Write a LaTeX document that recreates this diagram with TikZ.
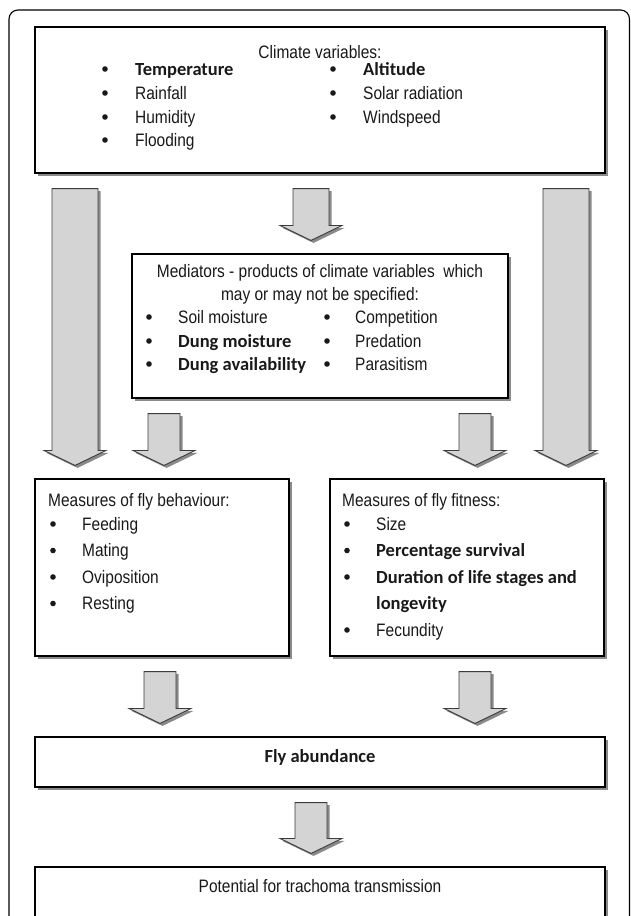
\documentclass[tikz,border=0pt]{standalone}
\usepackage{fontspec}
\setmainfont{Liberation Sans}[FakeStretch=0.86]
\newfontfamily\carl{Carlito}
\usetikzlibrary{calc,shadows}
\definecolor{arrowfill}{HTML}{D4D4D4}
\definecolor{arrowline}{HTML}{3C3C3C}
\definecolor{shadec}{HTML}{8A8A8A}
\tikzset{
  boxnode/.style={draw=black, line width=1.1pt, fill=white, inner sep=0pt,
    drop shadow={shadow xshift=2.5pt, shadow yshift=-2.5pt, fill=shadec, opacity=1}},
  txt/.style={font=\fontsize{18}{20}\selectfont, inner sep=0pt, text=black!90},
  btxt/.style={font=\carl\bfseries\fontsize{18.5}{20}\selectfont, inner sep=0pt, text=black!90},
  bul/.style={circle, fill=black!90, inner sep=0pt, minimum size=5.6pt, yshift=6pt},
  blockarrow/.style={draw=arrowline, line width=0.9pt, fill=arrowfill, line join=miter,
    drop shadow={shadow xshift=2.5pt, shadow yshift=-2.5pt, fill=shadec, opacity=1}},
  frame/.style={draw=black, line width=1.1pt, rounded corners=9pt}
}
\newcommand\blockarr[5]{%
  \path ($(#1)+(0,15)$) coordinate (#5s) ($(#2)+(0,-13)$) coordinate (#5e);
  \draw[blockarrow] let \p1=(#5s), \p2=(#5e) in
   (\x1-#3pt,\y1) -- (\x1+#3pt,\y1) -- (\x1+#3pt,\y2+15pt) -- (\x1+#4pt,\y2+15pt)
   -- (\x1,\y2) -- (\x1-#4pt,\y2+15pt) -- (\x1-#3pt,\y2+15pt) -- cycle;
}
\begin{document}
\begin{tikzpicture}[x=1pt,y=-1pt]
\useasboundingbox (0,0) rectangle (630,916);
\clip (0,0) rectangle (630,916);
\fill[white] (0,0) rectangle (630,916);
\draw[frame] (9,10) rectangle (629.5,960);

% boxes
\node[boxnode, minimum width=570pt, minimum height=146pt] (climate) at (320,100) {};
\node[boxnode, minimum width=376pt, minimum height=144pt] (med) at (320,326) {};
\node[boxnode, minimum width=254pt, minimum height=177pt] (beh) at (162,567.5) {};
\node[boxnode, minimum width=274pt, minimum height=177pt] (fit) at (467,567.5) {};
\node[boxnode, minimum width=570pt, minimum height=50pt] (fly) at (320,762) {};
\node[boxnode, minimum width=570pt, minimum height=70pt] (pot) at (320,902) {};

% arrow columns
\coordinate (cL) at (75,0);
\coordinate (cR) at (566,0);
\coordinate (cM) at (311,0);
\coordinate (cSL) at (164,0);
\coordinate (cSR) at (475,0);
\coordinate (cBL) at (160,0);
\coordinate (cBR) at (475,0);

% block arrows
\blockarr{climate.south -| cL}{beh.north -| cL}{23}{31}{aL}
\blockarr{climate.south -| cR}{fit.north -| cR}{23}{31}{aR}
\blockarr{climate.south -| cM}{med.north -| cM}{18}{31}{aM}
\blockarr{med.south -| cSL}{beh.north -| cSL}{16}{31}{aSL}
\blockarr{med.south -| cSR}{fit.north -| cSR}{16}{31}{aSR}
\blockarr{beh.south -| cBL}{fly.north -| cBL}{16}{31}{aBL}
\blockarr{fit.south -| cBR}{fly.north -| cBR}{16}{31}{aBR}
\blockarr{fly.south -| cM}{pot.north -| cM}{16}{31}{aP}

% climate text
\node[txt, anchor=base] (ctitle) at (320,58) {Climate variables:};
\node[bul] (cb1) at (105,75) {};
\node[bul] (cb2) at (105,99) {};
\node[bul] (cb3) at (105,123) {};
\node[bul] (cb4) at (105,146) {};
\node[btxt, anchor=base west] (ct1) at (135,75) {Temperature};
\node[txt, anchor=base west] (ct2) at (135,99) {Rainfall};
\node[txt, anchor=base west] (ct3) at (135,123) {Humidity};
\node[txt, anchor=base west] (ct4) at (135,146) {Flooding};
\node[bul] (cb5) at (333,75) {};
\node[bul] (cb6) at (333,99) {};
\node[bul] (cb7) at (333,123) {};
\node[btxt, anchor=base west] (ct5) at (363,75) {Altitude};
\node[txt, anchor=base west] (ct6) at (363,99) {Solar radiation};
\node[txt, anchor=base west] (ct7) at (363,123) {Windspeed};

% mediators text
\node[txt, anchor=base] (mt1) at (320,277) {Mediators - products of climate variables\ \ which};
\node[txt, anchor=base] (mt2) at (320,300) {may or may not be specified:};
\node[bul] (mb1) at (149,323) {};
\node[bul] (mb2) at (149,347) {};
\node[bul] (mb3) at (149,370) {};
\node[txt, anchor=base west] (mx1) at (178,323) {Soil moisture};
\node[btxt, anchor=base west] (mx2) at (178,347) {Dung moisture};
\node[btxt, anchor=base west] (mx3) at (178,370) {Dung availability};
\node[bul] (mb4) at (327,323) {};
\node[bul] (mb5) at (327,347) {};
\node[bul] (mb6) at (327,370) {};
\node[txt, anchor=base west] (mx4) at (355,323) {Competition};
\node[txt, anchor=base west] (mx5) at (355,347) {Predation};
\node[txt, anchor=base west] (mx6) at (355,370) {Parasitism};

% behaviour text
\node[txt, anchor=base west] (bt) at (48,506) {Measures of fly behaviour:};
\node[bul] (bb1) at (53,530) {};
\node[bul] (bb2) at (53,556.5) {};
\node[bul] (bb3) at (53,583) {};
\node[bul] (bb4) at (53,609.5) {};
\node[txt, anchor=base west] (bx1) at (82,530) {Feeding};
\node[txt, anchor=base west] (bx2) at (82,556.5) {Mating};
\node[txt, anchor=base west] (bx3) at (82,583) {Oviposition};
\node[txt, anchor=base west] (bx4) at (82,609.5) {Resting};

% fitness text
\node[txt, anchor=base west] (ft) at (342,506) {Measures of fly fitness:};
\node[bul] (fb1) at (347,530) {};
\node[bul] (fb2) at (347,556.5) {};
\node[bul] (fb3) at (347,583) {};
\node[bul] (fb5) at (347,636) {};
\node[txt, anchor=base west] (fx1) at (376,530) {Size};
\node[btxt, anchor=base west] (fx2) at (376,556.5) {Percentage survival};
\node[btxt, anchor=base west] (fx3) at (376,583) {Duration of life stages and};
\node[btxt, anchor=base west] (fx4) at (376,609.5) {longevity};
\node[txt, anchor=base west] (fx5) at (376,636) {Fecundity};

% bottom texts
\node[btxt, anchor=base] (flyt) at (320,762) {Fly abundance};
\node[txt, anchor=base] (pott) at (320,892) {Potential for trachoma transmission};
\end{tikzpicture}
\end{document}
